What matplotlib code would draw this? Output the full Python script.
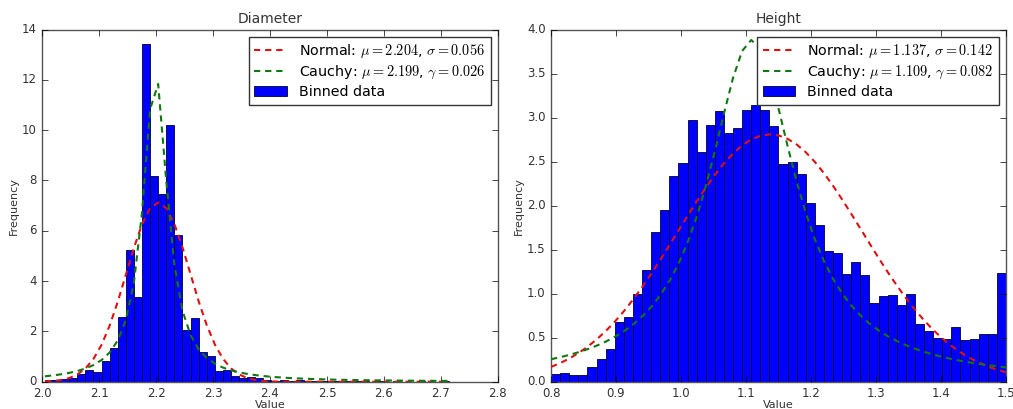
import numpy as np
import matplotlib
matplotlib.use("Agg")
import matplotlib.pyplot as plt

plt.style.use("classic")
plt.rcParams["mathtext.fontset"] = "cm"
plt.rcParams["font.family"] = ["DejaVu Sans"]

# ---------------- data ----------------
diam_start = 2.005
diam_width = 0.0142
diam_heights = [0.05, 0.08, 0.12, 0.15, 0.32, 0.45, 0.39, 0.84, 1.34, 2.58,
                5.25, 3.38, 13.41, 8.16, 7.47, 10.22, 5.84, 2.05, 2.54, 1.18,
                1.01, 0.42, 0.45, 0.24, 0.15, 0.20, 0.15, 0.07, 0.04, 0.07,
                0.04, 0.05, 0.03, 0.02, 0.04, 0.03, 0.01, 0.02, 0.01, 0.02,
                0.00, 0.01, 0.00, 0.01, 0.00, 0.00, 0.01, 0.00, 0.00, 0.01]
diam_norm = (2.204, 0.056)
diam_cauchy = (2.199, 0.026)

height_start = 0.8
height_width = 0.014
height_heights = [0.087, 0.095, 0.076, 0.076, 0.17, 0.254, 0.37, 0.68, 0.73, 1.00,
                  1.265, 1.70, 1.955, 2.34, 2.48, 2.97, 2.61, 2.92, 3.07, 2.83,
                  2.88, 3.09, 3.14, 3.09, 2.905, 2.47, 2.50, 2.36, 2.03, 1.78,
                  1.48, 1.46, 1.22, 1.36, 1.21, 0.89, 0.97, 0.98, 0.87, 1.00,
                  0.65, 0.58, 0.50, 0.48, 0.625, 0.47, 0.485, 0.545, 0.54, 1.24]
height_norm = (1.137, 0.142)
height_cauchy = (1.109, 0.082)

titles = ["Diameter", "Height"]
xlims = [(2.0, 2.8), (0.8, 1.5)]
ylims = [(0, 14), (0, 4.0)]
xticks = [np.arange(2.0, 2.81, 0.1), np.arange(0.8, 1.51, 0.1)]
yticks = [np.arange(0, 15, 2), np.arange(0, 4.01, 0.5)]
yfmt = ["%d", "%.1f"]


def normal_pdf(x, mu, s):
    return np.exp(-0.5 * ((x - mu) / s) ** 2) / (s * np.sqrt(2 * np.pi))


def cauchy_pdf(x, mu, g):
    return g / (np.pi * ((x - mu) ** 2 + g ** 2))


fig = plt.figure(figsize=(10.13, 4.09), dpi=100, facecolor="white")
positions = [[0.0415, 0.0667, 0.450, 0.861], [0.544, 0.0667, 0.449, 0.861]]

datasets = [
    (diam_start, diam_width, diam_heights, diam_norm, diam_cauchy),
    (height_start, height_width, height_heights, height_norm, height_cauchy),
]

for i, (start, width, heights, nrm, cau) in enumerate(datasets):
    ax = fig.add_axes(positions[i])
    n = len(heights)
    edges = start + width * np.arange(n + 1)
    ax.plot(edges, normal_pdf(edges, *nrm), color="#dd1111", ls="--",
            dashes=(4.5, 3.5), lw=1.5, zorder=3,
            label=r"Normal: $\mu=%.3f$, $\sigma=%.3f$" % nrm)
    ax.plot(edges, cauchy_pdf(edges, *cau), color="#117711", ls="--",
            dashes=(4.5, 3.5), lw=1.5, zorder=3,
            label=r"Cauchy: $\mu=%.3f$, $\gamma=%.3f$" % cau)
    ax.bar(edges[:-1], heights, width=width, align="edge", color="#0000ff",
           edgecolor="#000033", linewidth=0.6, label="Binned data", zorder=2)
    ax.set_xlim(*xlims[i])
    ax.set_ylim(*ylims[i])
    ax.set_xticks(xticks[i])
    ax.set_xticklabels(["%.1f" % v for v in xticks[i]], fontsize=8.5, color="#333333")
    ax.set_yticks(yticks[i])
    ax.set_yticklabels([yfmt[i] % v for v in yticks[i]], fontsize=8.5, color="#333333")
    ax.set_title(titles[i], fontsize=10, color="#333333")
    ax.set_xlabel("Value", fontsize=8, color="#333333", labelpad=0)
    ax.set_ylabel("Frequency", fontsize=8, color="#333333", labelpad=2)
    for sp in ax.spines.values():
        sp.set_color("#555555")
    leg = ax.legend(loc="upper right", fontsize=10.3, frameon=True,
                    handlelength=2.3, numpoints=1, borderaxespad=0.5,
                    labelspacing=0.25, handletextpad=0.8)
    leg.get_frame().set_edgecolor("#333333")

fig.savefig("out.png", dpi=100, facecolor="white")
